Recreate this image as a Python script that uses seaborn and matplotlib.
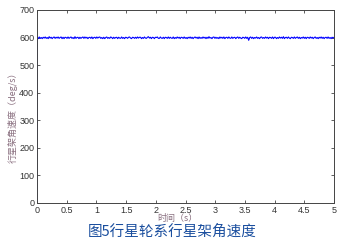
import numpy as np
import pandas as pd
import matplotlib
matplotlib.use("Agg")
import matplotlib.pyplot as plt
import seaborn as sns

# data
base_speed = 599.0
deviations = [2,-3,3,-2,1,-3,2,-1,3,-2,1,-3,4,-1,2,-3,1,3,-2,2,
              -1,3,-2,1,3,-3,2,-3,2,1,-2,3,-2,1,3,-2,1,-3,4,-2,
              1,2,-3,2,-2,1,3,-2,3,-1,2,-3,1,2,-2,3,-3,1,2,-2,
              3,-1,2,3,-2,1,-3,2,-3,1,3,-2,1,-2,3,1,-3,2,-2,1,
              2,-3,2,-1,-2,3,-2,1,-3,2,1,-2,2,3,-1,-3,2,1,-2,2,
              -2,3,-1,2,2,-3,1,-2,3,-1,-2,2,4,-1,2,-3,2,1,-3,2,
              1,3,-2,-2,3,-1,-2,2,-3,2,1,-2,3,-2,2,-1,-2,3,-3,1,
              -2,3,-1,2,-3,2,1,-2,3,-2,1,-3,2,-1,3,-2,2,-3,1,3,
              -1,2,-3,3,-2,1,-2,3,-1,2,-3,2,-2,4,-1,1,-3,2,3,-2,
              2,-2,1,-3,3,-1,2,-2,3,-3,1,2,-2,3,-1,-2,3,-2,1,2,
              -3,1,3,-2,2,-1,-3,2,1,-2,3,-2,2,-9,1,3,-2,2,-3,1,
              -1,3,-2,1,-3,2,3,-2,1,-2,3,-1,2,-3,2,1,-2,3,-3,2,
              2,-3,1,-2,3,-1,2,-2,4,-3,1,2,-2,3,-1,-3,2,1,-2,3,
              -2,1,3,-2,2,-3,1,-1,3,-2,2,-3,2,1,-2,3,-1,2,-3,1,
              3,-2,1,-3,2,-1,3,-2,2,-3,1,2,-2,3,-2,1,-3,2,-1,2]
start_time = [0.0]
start_speed = [0.0]
xticks = [0, 0.5, 1, 1.5, 2, 2.5, 3, 3.5, 4, 4.5, 5]
xtick_labels = ["0", "0.5", "1", "1.5", "2", "2.5", "3", "3.5", "4", "4.5", "5"]
yticks = [0, 100, 200, 300, 400, 500, 600, 700]
ylabel = "行星架角速度（deg/s）"
xlabel = "时间（s）"
caption = "图5行星轮系行星架角速度"

n = len(deviations)
t = list(start_time) + list(np.linspace(0.005, 5.0, n))
w = list(start_speed) + [base_speed + d for d in deviations]
df = pd.DataFrame({"t": t, "w": w})

sns.set_style("ticks")
plt.rcParams['font.family'] = ['Liberation Sans', 'Noto Sans CJK SC', 'DejaVu Sans']

fig = plt.figure(figsize=(3.52, 2.43), dpi=100)
ax = fig.add_axes([0.105, 0.165, 0.844, 0.794])
sns.lineplot(data=df, x="t", y="w", ax=ax, color="#0000ff", linewidth=0.8)

ax.set_xlim(0, 5)
ax.set_ylim(0, 700)
ax.set_xticks(xticks)
ax.set_xticklabels(xtick_labels)
ax.set_yticks(yticks)
ax.tick_params(direction='in', top=True, right=True, length=2.5, width=0.6,
               labelsize=6.5, labelcolor="#333333", color="#444444", pad=2)
for s in ax.spines.values():
    s.set_linewidth(0.7)
    s.set_color("#444444")

ax.set_xlabel("")
ax.set_ylabel("")
fig.text(0.037, 0.527, ylabel, rotation=90, ha="center", va="center",
         fontsize=6.5, color="#8a7080", family=['Noto Sans CJK SC', 'DejaVu Sans'])
fig.text(0.505, 0.1, xlabel, ha="center", va="center",
         fontsize=6.5, color="#8a7080", family=['Noto Sans CJK SC', 'DejaVu Sans'])
fig.text(0.49, 0.045, caption, ha="center", va="center",
         fontsize=10.5, color="#1a4e9e", family=['Noto Sans CJK SC', 'DejaVu Sans'])

fig.savefig("out.png", dpi=100)
